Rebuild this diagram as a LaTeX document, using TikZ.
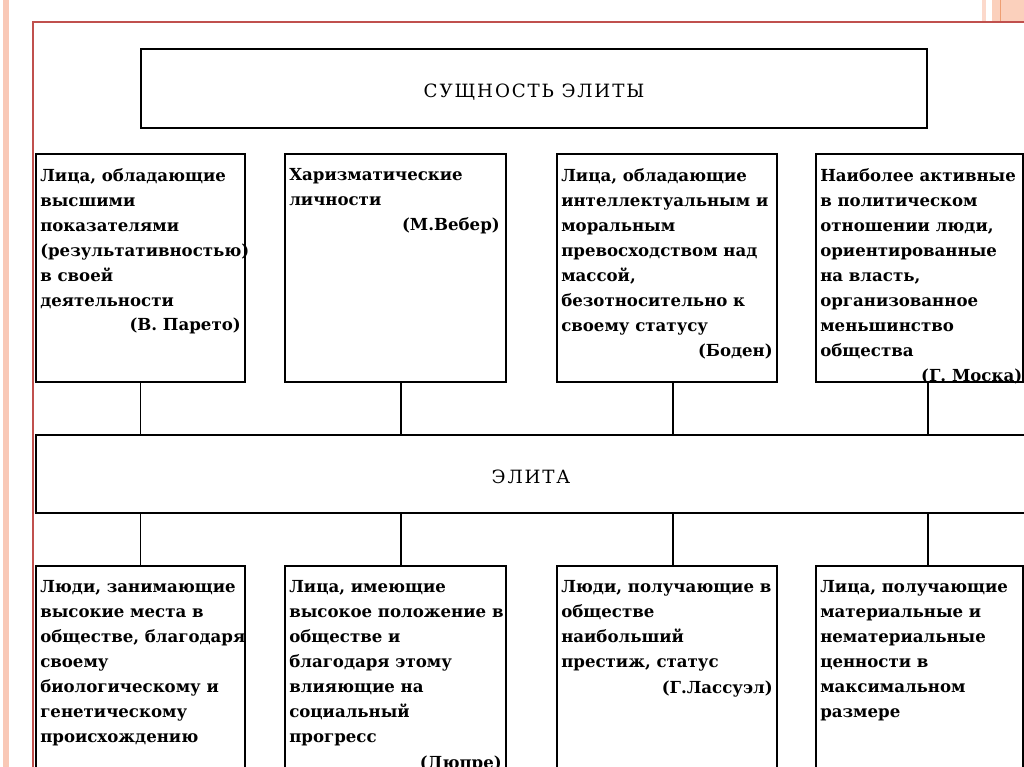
\documentclass[tikz,border=0pt]{standalone}
\usepackage{fontspec}
\setmainfont{DejaVu Serif}
\newfontfamily\headfont{DejaVu Serif}[LetterSpace=10]
\usepackage{xcolor}
\usepackage{tikz}
\usetikzlibrary{calc}

\definecolor{slidered}{HTML}{C0504D}
\definecolor{stripe}{HTML}{F9C8B6}
\definecolor{stripeA}{HTML}{FCD9CB}
\definecolor{stripeB}{HTML}{FBD0BC}
\definecolor{stripeC}{HTML}{EE9E72}

\begin{document}
\begin{tikzpicture}[
    box/.style={draw, line width=1.4pt, inner sep=0pt, outer sep=0pt, anchor=north west},
    txt/.style={inner sep=0pt, align=left, anchor=north west, execute at begin node=\strut,
        font=\bfseries\fontsize{11.8}{17.79}\selectfont},
    auth/.style={inner sep=0pt, anchor=base east, font=\bfseries\fontsize{11.8}{17.79}\selectfont},
    head/.style={inner sep=0pt, font=\headfont\fontsize{13}{15}\selectfont},
    link/.style={line width=1.4pt}]
    \useasboundingbox (0,0) rectangle (25.6,-19.175);
    \clip (0,0) rectangle (25.6,-19.175);

    % Slide frame
    \fill[stripe] (0.075,0) rectangle (0.225,-19.175);
    \fill[stripeA] (24.55,0) rectangle (24.65,-0.53);
    \fill[stripeB] (24.8,0) rectangle (25.6,-0.53);
    \draw[stripeC, line width=0.6pt] (25,0) -- (25,-0.53);
    \draw[slidered, line width=1.4pt] (0.825,-19.175) -- (0.825,-0.55) -- (25.6,-0.55);

    % Top
    \node[box, minimum width=19.65cm, minimum height=1.975cm] (top) at (3.525,-1.225) {};
    \node[head] (toptxt) at ([yshift=-0.1cm]top.center) {СУЩНОСТЬ ЭЛИТЫ};

    % Row 1
    \node[box, minimum width=5.225cm, minimum height=5.7cm] (a1) at (0.9,-3.85) {};
    \node[box, minimum width=5.525cm, minimum height=5.7cm] (a2) at (7.125,-3.85) {};
    \node[box, minimum width=5.5cm, minimum height=5.7cm] (a3) at (13.925,-3.85) {};
    \node[box, minimum width=5.18cm, minimum height=5.7cm] (a4) at (20.4,-3.85) {};

    \node[txt] (ta1) at ([shift={(0.1,-0.355)}]a1.north west)
        {Лица, обладающие\\высшими\\показателями\\(результативностью)\\в своей\\деятельности};
    \node[auth] (pa1) at ([shift={(-0.1,-4.425)}]a1.north east) {(В. Парето)};
    \node[txt] (ta2) at ([shift={(0.1,-0.355)}]a2.north west)
        {Харизматические\\личности};
    \node[auth] (pa2) at ([shift={(-0.15,-1.925)}]a2.north east) {(М.Вебер)};
    \node[txt] (ta3) at ([shift={(0.1,-0.355)}]a3.north west)
        {Лица, обладающие\\интеллектуальным и\\моральным\\превосходством над\\массой,\\безотносительно к\\своему статусу};
    \node[auth] (pa3) at ([shift={(-0.1,-5.05)}]a3.north east) {(Боден)};
    \node[txt] (ta4) at ([shift={(0.1,-0.355)}]a4.north west)
        {Наиболее активные\\в политическом\\отношении люди,\\ориентированные\\на власть,\\организованное\\меньшинство\\общества};
    \node[auth] (pa4) at ([shift={(-0.02,-5.675)}]a4.north east) {(Г. Моска)};

    % Middle
    \node[box, minimum width=24.75cm, minimum height=1.95cm] (elite) at (0.9,-10.875) {};
    \node[head] (elitetxt) at ([yshift=-0.08cm]elite.center) {ЭЛИТА};

    % Row 2
    \node[box, minimum width=5.225cm, minimum height=5.3cm] (b1) at (0.9,-14.15) {};
    \node[box, minimum width=5.525cm, minimum height=5.3cm] (b2) at (7.125,-14.15) {};
    \node[box, minimum width=5.5cm, minimum height=5.3cm] (b3) at (13.925,-14.15) {};
    \node[box, minimum width=5.18cm, minimum height=5.3cm] (b4) at (20.4,-14.15) {};

    \node[txt] (tb1) at ([shift={(0.1,-0.355)}]b1.north west)
        {Люди, занимающие\\высокие места в\\обществе, благодаря\\своему\\биологическому и\\генетическому\\происхождению};
    \node[txt] (tb2) at ([shift={(0.1,-0.355)}]b2.north west)
        {Лица, имеющие\\высокое положение в\\обществе и\\благодаря этому\\влияющие на\\социальный\\прогресс};
    \node[auth] (pb2) at ([shift={(-0.1,-5.05)}]b2.north east) {(Дюпре)};
    \node[txt] (tb3) at ([shift={(0.1,-0.355)}]b3.north west)
        {Люди, получающие в\\обществе\\наибольший\\престиж, статус};
    \node[auth] (pb3) at ([shift={(-0.1,-3.175)}]b3.north east) {(Г.Лассуэл)};
    \node[txt] (tb4) at ([shift={(0.1,-0.355)}]b4.north west)
        {Лица, получающие\\материальные и\\нематериальные\\ценности в\\максимальном\\размере};

    % Links
    \draw[link] (a1.south) -- (a1.south |- elite.north);
    \draw[link] ([xshift=0.14cm]a2.south) -- ([xshift=0.14cm]a2.south |- elite.north);
    \draw[link] ([xshift=0.15cm]a3.south) -- ([xshift=0.15cm]a3.south |- elite.north);
    \draw[link] ([xshift=0.21cm]a4.south) -- ([xshift=0.21cm]a4.south |- elite.north);
    \draw[link] (b1.north |- elite.south) -- (b1.north);
    \draw[link] ([xshift=0.14cm]b2.north |- elite.south) -- ([xshift=0.14cm]b2.north);
    \draw[link] ([xshift=0.15cm]b3.north |- elite.south) -- ([xshift=0.15cm]b3.north);
    \draw[link] ([xshift=0.21cm]b4.north |- elite.south) -- ([xshift=0.21cm]b4.north);
\end{tikzpicture}
\end{document}
